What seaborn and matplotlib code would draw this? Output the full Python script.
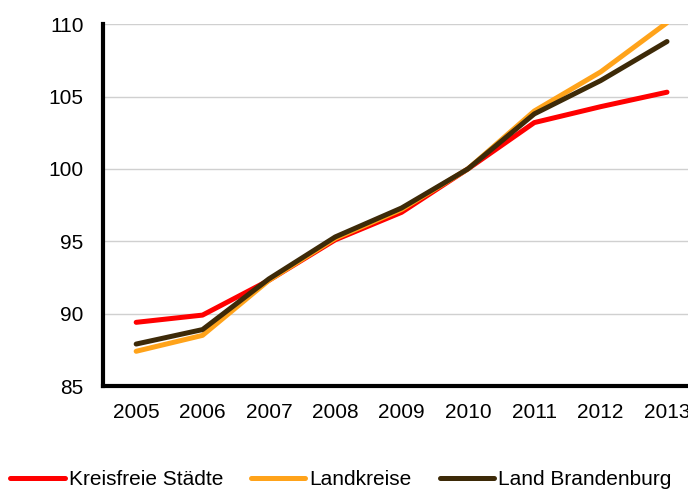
import pandas as pd
import seaborn as sns
import matplotlib.pyplot as plt

# values (index, 2010 = 100)
years = [2005, 2006, 2007, 2008, 2009, 2010, 2011, 2012, 2013]
kreisfreie = [89.4, 89.9, 92.3, 95.1, 97.0, 100.0, 103.2, 104.3, 105.3]
landkreise = [87.4, 88.5, 92.3, 95.2, 97.2, 100.0, 104.0, 106.7, 110.1]
brandenburg = [87.9, 88.9, 92.4, 95.3, 97.3, 100.0, 103.8, 106.1, 108.8]
series = ["Kreisfreie Städte", "Landkreise", "Land Brandenburg"]
pal = ["#FF0000", "#FFA31A", "#3D2A08"]

df = pd.DataFrame({
    "Jahr": years * 3,
    "Wert": kreisfreie + landkreise + brandenburg,
    "Gebiet": [s for s in series for _ in years],
})

sns.set_style("white")
plt.rcParams['font.family'] = ['Liberation Sans', 'DejaVu Sans']
plt.rcParams['text.color'] = 'black'
plt.rcParams['xtick.color'] = 'black'
plt.rcParams['ytick.color'] = 'black'

fig = plt.figure(figsize=(6.88, 4.91), dpi=100)
ax = fig.add_axes([0.1497, 0.2138, 0.868, 0.737])

sns.lineplot(data=df, x="Jahr", y="Wert", hue="Gebiet", hue_order=series,
             palette=pal, linewidth=3.6, ax=ax, legend=True)
for ln in ax.lines:
    ln.set_solid_capstyle("round")

ax.set_xlim(2004.5, 2013.5)
ax.set_ylim(85, 110)
ax.set_xticks(years)
ax.set_yticks([85, 90, 95, 100, 105, 110])
ax.set_xlabel("")
ax.set_ylabel("")
ax.tick_params(axis="both", labelsize=15, length=0)
ax.tick_params(axis="x", pad=12)
ax.tick_params(axis="y", pad=14)
ax.grid(axis="y", color="#D0D0D0", linewidth=1)
ax.set_axisbelow(True)
for side in ["top", "right"]:
    ax.spines[side].set_visible(False)
for side in ["left", "bottom"]:
    ax.spines[side].set_color("black")
    ax.spines[side].set_linewidth(3)

handles, labels = ax.get_legend_handles_labels()
ax.get_legend().remove()
for h in handles:
    h.set_linewidth(3.6)
    h.set_solid_capstyle("round")
fig.legend(handles, labels, loc="lower left", bbox_to_anchor=(-0.012, -0.035),
           ncol=3, frameon=False, fontsize=15, handlelength=2.6,
           handletextpad=0.2, columnspacing=1.35)

fig.savefig("out.png", dpi=100)
